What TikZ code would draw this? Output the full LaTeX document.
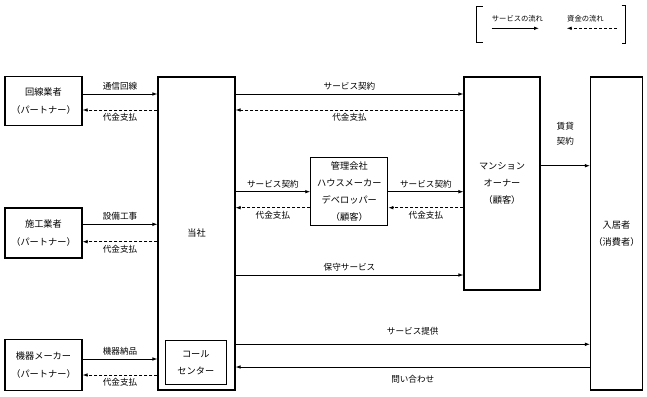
\documentclass[tikz,border=0pt]{standalone}
\usepackage{fontspec}
\setmainfont{Noto Sans CJK JP}
\usepackage{tikz}
\usetikzlibrary{positioning,arrows.meta}

\begin{document}
\begin{tikzpicture}[
    x=1pt,
    y=-1pt,
    font=\fontsize{8.5}{17}\selectfont,
    >={Latex[length=5pt,width=3.6pt]},
    box/.style={
        draw,
        line width=1.1pt,
        align=center,
        inner sep=0pt,
        font=\fontsize{9.2}{17.2}\selectfont
    },
    flow/.style={
        ->,
        line width=0.8pt
    },
    money/.style={
        ->,
        line width=0.8pt,
        dash pattern=on 3pt off 2pt
    },
    note/.style={
        font=\fontsize{8.6}{14.7}\selectfont,
        align=center
    },
    legend/.style={
        font=\fontsize{7.3}{9}\selectfont,
        inner sep=0pt
    }
]
\useasboundingbox (0,0) rectangle (647,396);

% =========================
% Legend
% =========================
\draw[line width=0.8pt] (482.7,6) -- (476,6) -- (476,42.7) -- (482.7,42.7);
\draw[line width=0.8pt] (621.7,5) -- (625.7,5) -- (625.7,43) -- (621.7,43);
\coordinate (legSa) at (491.7,28.3);
\coordinate (legSb) at (539,28.3);
\coordinate (legMa) at (617,28.3);
\coordinate (legMb) at (566.7,28.3);
\node[legend, anchor=base west] (legS) at (491.7,21.5) {サービスの流れ};
\node[legend, anchor=base west] (legM) at (567,21.5) {資金の流れ};
\draw[flow]  (legSa) -- (legSb);
\draw[money] (legMa) -- (legMb);

% =========================
% Boxes
% =========================
\node[box, minimum width=77pt, minimum height=49pt]  (kaisen)   at (43.5,101)   {回線業者\\（パートナー）};
\node[box, minimum width=77pt, minimum height=50pt]  (sekou)    at (43.5,233)   {施工業者\\（パートナー）};
\node[box, minimum width=77pt, minimum height=51pt]  (kiki)     at (43.5,365)   {機器メーカー\\（パートナー）};
\node[box, minimum width=77pt, minimum height=313pt] (tousha)   at (196.5,233.5) {当社};
\node[box, minimum width=61pt, minimum height=44pt]  (call)     at (195.8,362.5) {コール\\センター};
\node[box, minimum width=77pt, minimum height=68pt]  (kanri)    at (349.3,191.5) {管理会社\\ハウスメーカー\\デベロッパー\\（顧客）};
\node[box, minimum width=76pt, minimum height=213pt] (owner)    at (502,183.5)  {マンション\\オーナー\\（顧客）};
\node[box, minimum width=52pt, minimum height=313pt] (resident) at (616.5,233.5) {入居者\\（消費者）};

% =========================
% Partners and 当社
% =========================
\draw[flow]  (kaisen.east |- 0,94) -- node[note, above] {通信回線} (tousha.west |- 0,94);
\draw[money] (tousha.west |- 0,110) -- node[note, below] {代金支払} (kaisen.east |- 0,110);
\draw[flow]  (sekou.east |- 0,224.3) -- node[note, above] {設備工事} (tousha.west |- 0,224.3);
\draw[money] (tousha.west |- 0,241.7) -- node[note, below] {代金支払} (sekou.east |- 0,241.7);
\draw[flow]  (kiki.east |- 0,359) -- node[note, above] {機器納品} (tousha.west |- 0,359);
\draw[money] (tousha.west |- 0,375) -- node[note, below] {代金支払} (kiki.east |- 0,375);

% =========================
% 当社 and customers
% =========================
\draw[flow]  (tousha.east |- 0,94) -- node[note, above] {サービス契約} (owner.west |- 0,94);
\draw[money] (owner.west |- 0,110) -- node[note, below] {代金支払} (tousha.east |- 0,110);
\draw[flow]  (tousha.east |- 0,191.7) -- node[note, above] {サービス契約} (kanri.west |- 0,191.7);
\draw[money] (kanri.west |- 0,207.7) -- node[note, below] {代金支払} (tousha.east |- 0,207.7);
\draw[flow]  (kanri.east |- 0,191.7) -- node[note, above] {サービス契約} (owner.west |- 0,191.7);
\draw[money] (owner.west |- 0,207.7) -- node[note, below] {代金支払} (kanri.east |- 0,207.7);
\draw[flow]  (tousha.east |- 0,275) -- node[note, above] {保守サービス} (owner.west |- 0,275);
\draw[flow]  (owner.east |- 0,165.7) -- node[note, above=17pt] {賃貸\\契約} (resident.west |- 0,165.7);

% =========================
% 当社 and residents
% =========================
\draw[flow] (tousha.east |- 0,344.3) -- node[note, above=5pt] {サービス提供} (resident.west |- 0,344.3);
\draw[flow] (resident.west |- 0,367) -- node[note, below=5pt] {問い合わせ} (tousha.east |- 0,367);

\end{tikzpicture}
\end{document}
